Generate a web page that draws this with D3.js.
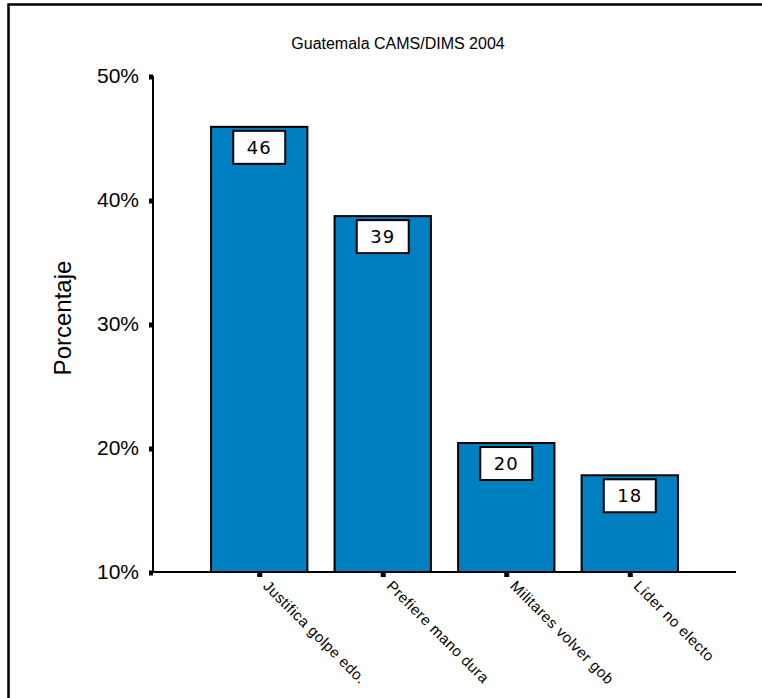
<!DOCTYPE html>
<html>
<head>
<meta charset="utf-8">
<script src="https://cdnjs.cloudflare.com/ajax/libs/d3/7.8.5/d3.min.js"></script>
<style>
  body { margin: 0; background: #fff; }
  svg { display: block; }
</style>
</head>
<body>
<svg id="chart" width="762" height="698"></svg>
<script>
// data
const categories = ["Justifica golpe edo.", "Prefiere mano dura", "Militares volver gob", "Líder no electo"];
const values = [45.9, 38.7, 20.4, 17.8];
const valueLabels = ["46", "39", "20", "18"];
const yTicks = [10, 20, 30, 40, 50];

var svg = d3.select("#chart");

// frame (only left and top edges visible)
svg.append("rect")
  .attr("x", 8.5).attr("y", 4.5)
  .attr("width", 800).attr("height", 800)
  .attr("fill", "none").attr("stroke", "#000").attr("stroke-width", 2.5);

var x0 = 153, x1 = 736, yTop = 76, yBot = 572;

var xScale = d3.scaleBand().domain(categories).range([x0, x1])
  .paddingInner(0.22).paddingOuter(0.47);
var yScale = d3.scaleLinear().domain([10, 50]).range([yBot, yTop]);

svg.append("text")
  .attr("x", 398).attr("y", 49)
  .attr("text-anchor", "middle")
  .attr("font-family", "Liberation Sans, Arial, sans-serif")
  .attr("font-size", "16px")
  .text("Guatemala CAMS/DIMS 2004");

// bars
svg.selectAll(".bar")
  .data(categories)
  .enter().append("rect")
  .attr("class", "bar")
  .attr("x", function(d) { return xScale(d); })
  .attr("y", function(d, i) { return yScale(values[i]); })
  .attr("width", xScale.bandwidth())
  .attr("height", function(d, i) { return yBot - yScale(values[i]); })
  .attr("fill", "#0080c0")
  .attr("stroke", "#000").attr("stroke-width", 2);

// value boxes
var boxes = svg.selectAll(".vbox")
  .data(categories)
  .enter().append("g")
  .attr("class", "vbox")
  .attr("transform", function(d, i) {
    return "translate(" + (xScale(d) + xScale.bandwidth() / 2) + "," + yScale(values[i]) + ")";
  });
boxes.append("rect")
  .attr("x", -26).attr("y", 4)
  .attr("width", 52).attr("height", 33)
  .attr("fill", "#fff").attr("stroke", "#000").attr("stroke-width", 2);
boxes.append("text")
  .attr("x", 0).attr("y", 27)
  .attr("text-anchor", "middle")
  .attr("font-family", "DejaVu Sans, Verdana, sans-serif")
  .attr("font-size", "18px")
  .attr("letter-spacing", "1px")
  .text(function(d, i) { return valueLabels[i]; });

// y axis
var yAxis = svg.append("g")
  .attr("transform", "translate(" + x0 + ",0)")
  .call(d3.axisLeft(yScale).tickValues(yTicks).tickSize(0).tickPadding(14)
    .tickFormat(function(d) { return d + "%"; }));
yAxis.select(".domain").remove();
yAxis.selectAll("text")
  .attr("font-family", "Liberation Sans, Arial, sans-serif")
  .attr("font-size", "21px")
  .attr("fill", "#000");
yAxis.selectAll(".tick").append("rect")
  .attr("x", -4).attr("y", -2).attr("width", 4).attr("height", 5)
  .attr("fill", "#000");
svg.append("line")
  .attr("x1", x0).attr("x2", x0).attr("y1", yTop).attr("y2", yBot)
  .attr("stroke", "#000").attr("stroke-width", 2);

// x axis
var xAxis = svg.append("g")
  .attr("transform", "translate(0," + yBot + ")")
  .call(d3.axisBottom(xScale).tickSize(0).tickPadding(0));
xAxis.select(".domain").remove();
svg.append("line")
  .attr("x1", x0).attr("x2", x1).attr("y1", yBot).attr("y2", yBot)
  .attr("stroke", "#000").attr("stroke-width", 2);
xAxis.selectAll(".tick").append("rect")
  .attr("x", -2).attr("y", 0).attr("width", 5).attr("height", 5)
  .attr("fill", "#000");
xAxis.selectAll(".tick text")
  .attr("font-family", "Liberation Sans, Arial, sans-serif")
  .attr("font-size", "15px")
  .attr("letter-spacing", "0.5px")
  .attr("fill", "#000")
  .attr("text-anchor", "start")
  .attr("dy", null)
  .attr("y", 0)
  .attr("transform", "translate(3,15) rotate(45)");

svg.append("text")
  .attr("transform", "translate(71,318) rotate(-90)")
  .attr("text-anchor", "middle")
  .attr("font-family", "Liberation Sans, Arial, sans-serif")
  .attr("font-size", "24px")
  .text("Porcentaje");
</script>
</body>
</html>
